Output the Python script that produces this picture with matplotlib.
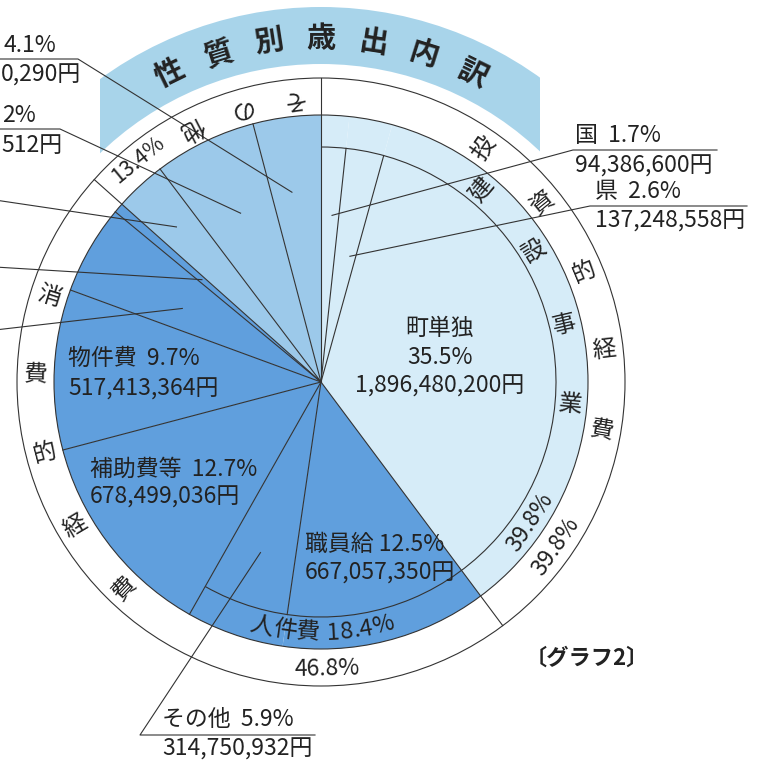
###### LIBRARIES
import matplotlib
matplotlib.use('Agg')
import matplotlib.pyplot as plt
import numpy as np
from matplotlib.patches import Wedge, Rectangle, Circle, Arc
from matplotlib.font_manager import FontProperties

plt.rcParams['font.family'] = ['Noto Sans CJK JP', 'DejaVu Sans']


###### DATA
# wedges clockwise from 12 o'clock, shares in %
items = ['国', '県', '町単独', '職員給', 'その他', '補助費等', '物件費',
         '扶助費', '維持補修費', 'その他A', 'その他B', 'その他C']
shares = [1.7, 2.6, 35.5, 12.5, 5.9, 12.7, 9.7, 5.4, 0.6, 3.1, 6.2, 4.1]
groups = ['inv', 'inv', 'inv', 'con', 'con', 'con', 'con', 'con', 'con',
          'oth', 'oth', 'oth']
amounts = ['94,386,600円', '137,248,558円', '1,896,480,200円', '667,057,350円',
           '314,750,932円', '678,499,036円', '517,413,364円']

group_names = ['投資的経費', '消費的経費', 'その他']
group_shares = [39.8, 46.8, 13.4]

# inner bands (sub totals drawn inside the pie edge)
band_names = ['建設事業', '人件費']
band_shares = [39.8, 18.4]
band_items = [[0, 1, 2], [3, 4]]

title = '性質別歳出内訳'
caption = '〔グラフ2〕'

group_colors = {'inv': '#d6ecf8', 'con': '#609fdd', 'oth': '#9cc9ea'}


###### GEOMETRY
W = H = 763
CX, CY = 321, H - 382
R_PIE, R_OUT, R_IN = 267, 304, 235
LC = '#333333'
TC = '#222222'
FS = 16.5


def polar(theta, r):
    """clockwise degrees from 12 o'clock -> data coords"""
    t = np.deg2rad(theta)
    return CX + r * np.sin(t), CY + r * np.cos(t)


def scr(x, y):
    return x, H - y


cum = np.concatenate([[0], np.cumsum(shares)]) * 3.6
group_cum = np.concatenate([[0], np.cumsum(group_shares)]) * 3.6

fig = plt.figure(figsize=(7.63, 7.63), dpi=100)
ax = fig.add_axes([0, 0, 1, 1])

ax.pie(shares, colors=[group_colors[g] for g in groups], startangle=90,
       counterclock=False, radius=R_PIE, center=(CX, CY),
       wedgeprops=dict(linewidth=0))
ax.set_xlim(0, W)
ax.set_ylim(0, H)
ax.set_aspect('equal')
ax.axis('off')

# title banner
band = Wedge((CX, CY), 375, 0, 180, width=57, facecolor='#a8d4ea', edgecolor='none')
ax.add_patch(band)
band.set_clip_path(Rectangle((100, 0), 440, H, transform=ax.transData))

# circles
ax.add_patch(Circle((CX, CY), R_OUT, fill=False, edgecolor=LC, lw=0.8))
ax.add_patch(Circle((CX, CY), R_PIE, fill=False, edgecolor=LC, lw=0.8))
band_end = sum(band_shares) * 3.6
ax.add_patch(Arc((CX, CY), 2 * R_IN, 2 * R_IN, theta1=90 - band_end, theta2=90,
                 edgecolor=LC, lw=0.8))

# radial boundaries
group_edges = set(np.round(group_cum, 3))
inside_band = set()
for idx in band_items:
    for i in idx[1:]:
        inside_band.add(round(cum[i], 3))
for a in cum[:-1]:
    a = round(a, 3)
    if a in group_edges:
        r = R_OUT
    elif a in inside_band:
        r = R_IN
    else:
        r = R_PIE
    x, y = polar(a, r)
    ax.plot([CX, x], [CY, y], color=LC, lw=0.8)


# ring / band characters
def ring_chars(text, theta0, step, r, style, size=17, weight='normal'):
    for k, ch in enumerate(text):
        th = theta0 + step * k
        x, y = polar(th, r)
        if style == 'top':
            rot = -th
        elif style == 'bottom':
            rot = 180 - th
        elif style == 'right':
            rot = 90 - th
        else:
            rot = 270 - th
        ax.text(x, y, ch, rotation=rot, rotation_mode='anchor', ha='center',
                va='center', fontsize=size, color=TC, fontweight=weight)


ring_chars(title, -26.1, 8.7, 344, 'top', size=21, weight='bold')
ring_chars(group_names[0], 35, 16.2, 285, 'right')
ring_chars(band_names[0], 40, 18.4, 250, 'right')
ring_chars(group_names[1], 287.4, -16, 285, 'left')
ring_chars(group_names[2], 354.0, -10.5, 285, 'bottom')


def ring_label(s, theta, r, style, size=16.5):
    x, y = polar(theta, r)
    rot = -theta if style == 'top' else 180 - theta
    ax.text(x, y, s, rotation=rot, rotation_mode='anchor', ha='center',
            va='center', fontsize=size, color=TC)


ring_label(f'{group_shares[2]}%', 320.6, 288, 'top', size=15.5)
ring_label(f'{band_shares[0]}%', 123.8, 252, 'bottom')
ring_label(f'{group_shares[0]}%', 125.0, 287, 'bottom')
ring_label(f'{group_shares[1]}%', 178.8, 287, 'bottom')

# curved "人件費 18.4%" along the inner band
renderer = fig.canvas.get_renderer()
fp = FontProperties(family=['Noto Sans CJK JP', 'DejaVu Sans'], size=17)
s = f'{band_names[1]} {band_shares[1]}%'
widths = [renderer.get_text_width_height_descent(c if c != ' ' else 'i', fp, ismath=False)[0]
          for c in s]
r_b = 251
total = sum(widths) / r_b * 180 / np.pi
th = 179.8 + total / 2
for c, w in zip(s, widths):
    half = w / r_b * 180 / np.pi / 2
    th -= half
    x, y = polar(th, r_b)
    ax.text(x, y, c, rotation=180 - th, rotation_mode='anchor', ha='center',
            va='center', fontproperties=fp, color=TC)
    th -= half

# labels inside wedges
ax.text(*scr(440, 328), items[2], ha='center', va='center', fontsize=FS, color=TC)
ax.text(*scr(440, 357), f'{shares[2]}%', ha='center', va='center', fontsize=FS, color=TC)
ax.text(*scr(440, 386), amounts[2], ha='center', va='center', fontsize=FS, color=TC)
ax.text(*scr(68, 358), f'{items[6]}  {shares[6]}%', ha='left', va='center', fontsize=FS, color=TC)
ax.text(*scr(68, 389), amounts[6], ha='left', va='center', fontsize=FS, color=TC)
ax.text(*scr(90, 469), f'{items[5]}  {shares[5]}%', ha='left', va='center', fontsize=FS, color=TC)
ax.text(*scr(90, 497), amounts[5], ha='left', va='center', fontsize=FS, color=TC)
ax.text(*scr(305, 544), f'{items[3]} {shares[3]}%', ha='left', va='center', fontsize=FS, color=TC)
ax.text(*scr(305, 573), amounts[3], ha='left', va='center', fontsize=FS, color=TC)


# leader lines: anchor inside wedge i, then elbow points in screen coords
def leader(i, frac, r, pts):
    ax_, ay_ = polar(cum[i] + frac * shares[i] * 3.6, r)
    xs = [ax_] + [p[0] for p in pts]
    ys = [ay_] + [H - p[1] for p in pts]
    ax.plot(xs, ys, color=LC, lw=0.8)


leader(0, 0.62, 167, [(573, 150), (717, 150)])
leader(1, 0.73, 129, [(590, 206), (747, 206)])
leader(11, 0.41, 192, [(78, 59), (-5, 59)])
leader(10, 0.52, 187, [(60, 129), (-5, 129)])
leader(9, 0.47, 212, [(-5, 200)])
leader(8, 0.5, 157, [(-5, 267)])
leader(7, 0.4, 157, [(-5, 330)])
leader(4, 0.53, 181, [(140, 735), (315, 735)])

ax.text(*scr(575, 136), f'{items[0]}  {shares[0]}%', ha='left', va='center', fontsize=FS, color=TC)
ax.text(*scr(575, 166), amounts[0], ha='left', va='center', fontsize=FS, color=TC)
ax.text(*scr(595, 191), f'{items[1]}  {shares[1]}%', ha='left', va='center', fontsize=FS, color=TC)
ax.text(*scr(595, 221), amounts[1], ha='left', va='center', fontsize=FS, color=TC)
ax.text(*scr(162, 720), f'{items[4]}  {shares[4]}%', ha='left', va='center', fontsize=FS, color=TC)
ax.text(*scr(162, 749), amounts[4], ha='left', va='center', fontsize=FS, color=TC)

# labels cut by the left page edge (only the visible part)
ax.text(*scr(56, 46), f'{shares[11]}%', ha='right', va='center', fontsize=FS, color=TC)
ax.text(*scr(1, 75), '0,290円', ha='left', va='center', fontsize=FS, color=TC)
ax.text(*scr(36, 116), '2%', ha='right', va='center', fontsize=FS, color=TC)
ax.text(*scr(1, 145), '512円', ha='left', va='center', fontsize=FS, color=TC)

ax.text(*scr(587, 658), caption, ha='center', va='center', fontsize=16,
        fontweight='bold', color=TC)

fig.savefig('out.png', dpi=100, facecolor='white')
